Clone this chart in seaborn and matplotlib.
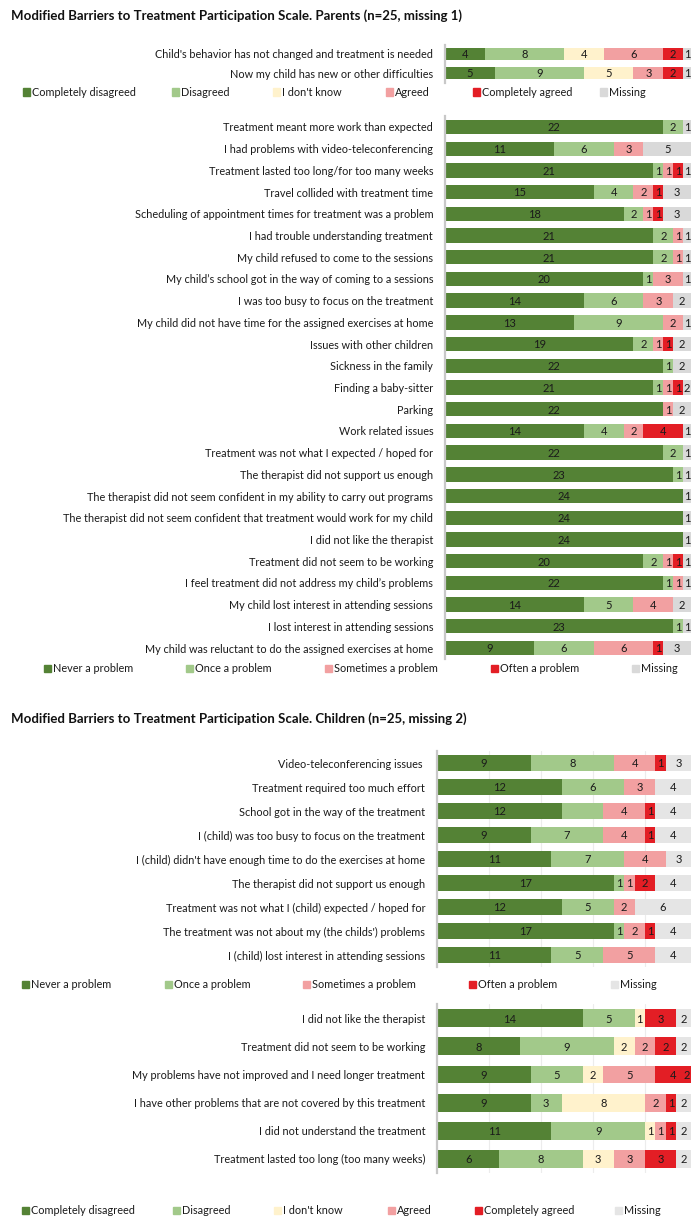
import matplotlib
matplotlib.use("Agg")
import matplotlib.pyplot as plt
from matplotlib.patches import Rectangle
import pandas as pd
import seaborn as sns

# ---------------------------------------------------------------- data
agree_cats = ["Completely disagreed", "Disagreed", "I don't know",
              "Agreed", "Completely agreed", "Missing"]
problem_cats = ["Never a problem", "Once a problem", "Sometimes a problem",
                "Often a problem", "Missing"]

parent_title = "Modified Barriers to Treatment Participation Scale. Parents (n=25, missing 1)"
child_title = "Modified Barriers to Treatment Participation Scale. Children (n=25, missing 2)"

parent_agree_items = [
    "Child's behavior has not changed and treatment is needed",
    "Now my child has new or other difficulties",
]
parent_agree_counts = [
    [4, 8, 4, 6, 2, 1],
    [5, 9, 5, 3, 2, 1],
]

parent_problem_items = [
    "Treatment meant more work than expected",
    "I had problems with video-teleconferencing",
    "Treatment lasted too long/for too many weeks",
    "Travel collided with treatment time",
    "Scheduling of appointment times for treatment was a problem",
    "I had trouble understanding treatment",
    "My child refused to come to the sessions",
    "My child\u2019s school got in the way of coming to a sessions",
    "I was too busy to focus on the treatment",
    "My child did not have time for the assigned exercises at home",
    "Issues with other children",
    "Sickness in the family",
    "Finding a baby-sitter",
    "Parking",
    "Work related issues",
    "Treatment was not what I expected / hoped for",
    "The therapist did not support us enough",
    "The therapist did not seem confident in my ability to carry out programs",
    "The therapist did not seem confident that treatment would work for my child",
    "I did not like the therapist",
    "Treatment did not seem to be working",
    "I feel treatment did not address my child\u2019s problems",
    "My child lost interest in attending sessions",
    "I lost interest in attending sessions",
    "My child was reluctant to do the assigned exercises at home",
]
parent_problem_counts = [
    [22, 2, 0, 0, 1],
    [11, 6, 3, 0, 5],
    [21, 1, 1, 1, 1],
    [15, 4, 2, 1, 3],
    [18, 2, 1, 1, 3],
    [21, 2, 1, 0, 1],
    [21, 2, 1, 0, 1],
    [20, 1, 3, 0, 1],
    [14, 6, 3, 0, 2],
    [13, 9, 2, 0, 1],
    [19, 2, 1, 1, 2],
    [22, 1, 0, 0, 2],
    [21, 1, 1, 1, 2],
    [22, 0, 1, 0, 2],
    [14, 4, 2, 4, 1],
    [22, 2, 0, 0, 1],
    [23, 1, 0, 0, 1],
    [24, 0, 0, 0, 1],
    [24, 0, 0, 0, 1],
    [24, 0, 0, 0, 1],
    [20, 2, 1, 1, 1],
    [22, 1, 1, 0, 1],
    [14, 5, 4, 0, 2],
    [23, 1, 0, 0, 1],
    [9, 6, 6, 1, 3],
]

child_problem_items = [
    "Video-teleconferencing issues ",
    "Treatment required too much effort",
    "School got in the way of the treatment",
    "I (child) was too busy to focus on the treatment",
    "I (child) didn't have enough time to do the exercises at home",
    "The therapist did not support us enough",
    "Treatment was not what I (child) expected / hoped for",
    "The treatment was not about my (the childs') problems",
    "I (child) lost interest in attending sessions",
]
child_problem_counts = [
    [9, 8, 4, 1, 3],
    [12, 6, 3, 0, 4],
    [12, 4, 4, 1, 4],
    [9, 7, 4, 1, 4],
    [11, 7, 4, 0, 3],
    [17, 1, 1, 2, 4],
    [12, 5, 2, 0, 6],
    [17, 1, 2, 1, 4],
    [11, 5, 5, 0, 4],
]
# segments printed without a number
child_problem_unlabelled = [("School got in the way of the treatment", "Once a problem")]

child_agree_items = [
    "I did not like the therapist",
    "Treatment did not seem to be working",
    "My problems have not improved and I need longer treatment",
    "I have other problems that are not covered by this treatment",
    "I did not understand the treatment",
    "Treatment lasted too long (too many weeks)",
]
child_agree_counts = [
    [14, 5, 1, 0, 3, 2],
    [8, 9, 2, 2, 2, 2],
    [9, 5, 2, 5, 4, 2],
    [9, 3, 8, 2, 1, 2],
    [11, 9, 1, 1, 1, 2],
    [6, 8, 3, 3, 3, 2],
]

# ---------------------------------------------------------------- style
DARK_GREEN = "#548235"
LIGHT_GREEN = "#A2C98A"
CREAM = "#FFF2CC"
PINK = "#F2A0A1"
RED = "#E31E25"
GREY_P = "#D9D9D9"
GREY_C = "#E5E5E5"

agree_colors_p = dict(zip(agree_cats, [DARK_GREEN, LIGHT_GREEN, CREAM, PINK, RED, GREY_P]))
agree_colors_c = dict(zip(agree_cats, [DARK_GREEN, LIGHT_GREEN, CREAM, PINK, RED, GREY_C]))
problem_colors_p = dict(zip(problem_cats, [DARK_GREEN, LIGHT_GREEN, PINK, RED, GREY_P]))
problem_colors_c = dict(zip(problem_cats, [DARK_GREEN, LIGHT_GREEN, PINK, RED, GREY_C]))

sns.set_theme(style="white")
plt.rcParams["font.family"] = ["Lato", "DejaVu Sans"]

W, H = 691, 1216
fig = plt.figure(figsize=(W / 100, H / 100), dpi=100)

LABEL_FS = 7.8
VALUE_FS = 8.0
TITLE_FS = 9.5
TEXT_COLOR = "#1a1a1a"


def px_axes(left, top, right, bottom):
    return fig.add_axes([left / W, 1 - bottom / H, (right - left) / W, (bottom - top) / H])


def stacked_panel(ax, items, counts, cats, colors, bar_h, visible_max, label_xmax,
                  grid_ticks=(), unlabelled=()):
    df = pd.DataFrame(counts, index=items, columns=cats)
    cum = df.cumsum(axis=1)
    cum.index.name = "item"
    long = cum.reset_index()
    # stacked bars: widest cumulative first, each later layer covers the left part
    for cat in reversed(cats):
        sns.barplot(data=long, x=cat, y="item", order=items, color=colors[cat],
                    width=bar_h, orient="h", errorbar=None, saturation=1,
                    linewidth=0, ax=ax, zorder=2)
    n = len(items)
    for i, item in enumerate(items):
        left = 0
        for cat in cats:
            v = df.loc[item, cat]
            if v > 0 and (item, cat) not in unlabelled:
                # centre of the part of the segment that stays on the page
                mid = (left + min(left + v, max(visible_max, left))) / 2
                ax.text(min(mid, label_xmax), i + 0.04, f"{v}",
                        ha="center", va="center", fontsize=VALUE_FS,
                        color=TEXT_COLOR, zorder=3)
            left += v
    ax.set_xlim(0, 25)
    ax.set_ylim(n - 0.5, -0.5)
    ax.set_xlabel("")
    ax.set_ylabel("")
    ax.set_xticks(list(grid_ticks))
    ax.tick_params(axis="x", length=0, labelbottom=False)
    ax.tick_params(axis="y", length=0, pad=8.5, labelsize=LABEL_FS, labelcolor=TEXT_COLOR)
    if grid_ticks:
        ax.grid(axis="x", color="#ECECEC", linewidth=0.8)
        ax.set_axisbelow(True)
    else:
        ax.grid(False)
    for side in ("top", "right", "bottom"):
        ax.spines[side].set_visible(False)
    ax.spines["left"].set_color("#C8C8C8")
    ax.spines["left"].set_linewidth(1.6)
    ax.patch.set_alpha(0)


def legend_row(y, xs, cats, colors):
    for x, cat in zip(xs, cats):
        fig.patches.append(Rectangle((x / W, 1 - (y + 3.5) / H), 7 / W, 7 / H,
                                     transform=fig.transFigure, color=colors[cat]))
        fig.text((x + 9) / W, 1 - y / H, cat, ha="left", va="center",
                 fontsize=LABEL_FS, color=TEXT_COLOR)


# ---------------------------------------------------------------- parents
fig.text(11 / W, 1 - 16 / H, parent_title, ha="left", va="center",
         fontsize=TITLE_FS, fontweight="bold", color="#111111")

ax1 = px_axes(445, 44.5, 693, 82.5)
stacked_panel(ax1, parent_agree_items, parent_agree_counts, agree_cats,
              agree_colors_p, 0.62, 24.8, 24.5)
legend_row(92, [23, 172, 273, 386, 473, 600], agree_cats, agree_colors_p)

ax2 = px_axes(445, 116.1, 693, 658.9)
stacked_panel(ax2, parent_problem_items, parent_problem_counts, problem_cats,
              problem_colors_p, 0.66, 24.8, 24.5)
legend_row(668, [44, 186, 325, 491, 632], problem_cats, problem_colors_p)

# ---------------------------------------------------------------- children
fig.text(11 / W, 1 - 719 / H, child_title, ha="left", va="center",
         fontsize=TITLE_FS, fontweight="bold", color="#111111")

ax3 = px_axes(437, 751, 697, 967)
stacked_panel(ax3, child_problem_items, child_problem_counts, problem_cats,
              problem_colors_c, 0.67, 24.4, 24.0, grid_ticks=(5, 10, 15, 20),
              unlabelled=child_problem_unlabelled)
legend_row(984, [22, 165, 303, 469, 611], problem_cats, problem_colors_c)

ax4 = px_axes(437, 1004.3, 697, 1172.8)
stacked_panel(ax4, child_agree_items, child_agree_counts, agree_cats,
              agree_colors_c, 0.64, 24.4, 24.0, grid_ticks=(5, 10, 15, 20))
legend_row(1210, [22, 173, 274, 388, 475, 615], agree_cats, agree_colors_c)

fig.savefig("out.png", dpi=100, facecolor="white")
